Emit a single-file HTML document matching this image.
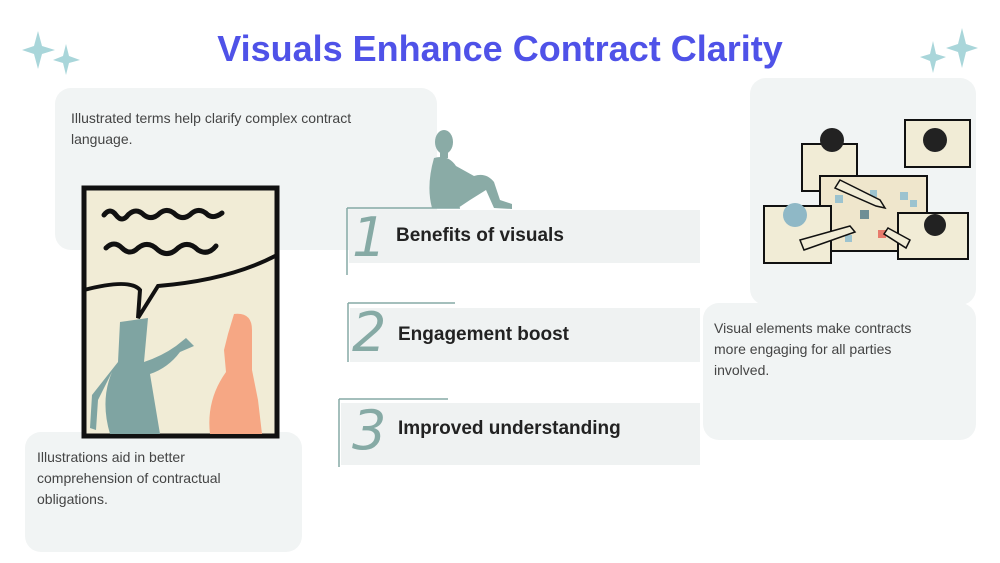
<!DOCTYPE html>
<html><head><meta charset="utf-8"><style>
body{margin:0;width:1000px;height:563px;background:#fff;position:relative;overflow:hidden;font-family:"Liberation Sans",sans-serif;}
.box{position:absolute;background:#f1f4f4;border-radius:16px;}
.t{position:absolute;color:#444;font-size:14px;line-height:21px;}
.row{position:absolute;background:#eff2f2;}
.lbl{position:absolute;font-weight:bold;font-size:19px;color:#222;}
.num{position:absolute;font-family:"DejaVu Sans",sans-serif;font-size:54px;color:#86aaa5;font-style:italic;font-weight:200;}
</style></head><body>
<div style="position:absolute;left:0;width:1000px;top:28px;text-align:center;font-weight:bold;font-size:36px;color:#4f52e8;">Visuals Enhance Contract Clarity</div>
<svg style="position:absolute;left:0;top:0" width="1000" height="563">
<g fill="#a9d6da">
<path d="M38 31 L42 46 L55 50 L42 54 L38 69 L34 54 L22 50 L34 46Z"/>
<path d="M66 44 L69 56 L80 60 L69 63 L66 75 L63 63 L53 60 L63 56Z"/>
<path d="M962 28 L966 44 L978 48 L966 52 L962 68 L958 52 L946 48 L958 44Z"/>
<path d="M933 41 L936 54 L946 57 L936 61 L933 73 L930 61 L920 57 L930 54Z"/>
</g>
</svg>
<div class="box" style="left:55px;top:88px;width:382px;height:162px;"></div>
<div class="t" style="left:71px;top:108px;width:340px;">Illustrated terms help clarify complex contract language.</div>
<div class="box" style="left:750px;top:78px;width:226px;height:227px;"></div>
<div class="box" style="left:703px;top:303px;width:273px;height:137px;"></div>
<div class="t" style="left:714px;top:318px;width:225px;">Visual elements make contracts more engaging for all parties involved.</div>
<div class="box" style="left:25px;top:432px;width:277px;height:120px;"></div>
<div class="t" style="left:37px;top:447px;width:215px;">Illustrations aid in better comprehension of contractual obligations.</div>

<svg style="position:absolute;left:0;top:0" width="1000" height="563">
<rect x="84" y="188" width="193" height="248" fill="#f1ecd6" stroke="#111" stroke-width="5"/>
<path d="M84 290 Q130 278 140 290 L138 318 L158 286 Q230 280 277 255" fill="none" stroke="#111" stroke-width="4"/>
<path d="M104 215 q6-8 12 0 q6 8 12 0 q8-8 16 0 q8 6 16-2 q8-6 16 2 q8 6 16-2 q8-6 16 2 q6 4 14-2" fill="none" stroke="#111" stroke-width="5" stroke-linecap="round"/>
<path d="M106 248 q8-8 16 0 q8 8 16 0 q10-8 20 2 q10 8 20-2 q10-8 20 2 q10 6 18-4" fill="none" stroke="#111" stroke-width="5" stroke-linecap="round"/>
<path d="M120 322 L148 318 L144 362 Q162 356 176 346 L186 338 L194 346 L180 352 Q168 368 150 374 L160 434 L110 434 Q100 400 112 372 L98 400 L96 430 L90 428 L92 395 L118 362 Z" fill="#7fa4a2"/>
<path d="M234 314 Q252 312 252 330 L252 370 L258 400 L262 434 L210 434 Q206 400 226 372 L224 350 L228 334 Z" fill="#f6a784"/>
<!-- sitting man -->
<g fill="#8aaba6">
<ellipse cx="444" cy="142" rx="9" ry="12"/>
<rect x="440" y="150" width="8" height="8"/>
<path d="M434 158 Q448 154 456 166 L474 176 Q486 172 494 182 L500 200 L512 204 L512 209 L494 208 L486 190 L470 200 L458 208 L432 208 Q426 186 434 158Z"/>
</g>
<path d="M347 208 H460 M347 208 V275" stroke="#86aaa5" stroke-width="1.5" fill="none"/>
<path d="M348 303 H455 M348 303 V362" stroke="#86aaa5" stroke-width="1.5" fill="none"/>
<path d="M339 399 H448 M339 399 V467" stroke="#86aaa5" stroke-width="1.5" fill="none"/>
<g stroke="#111" stroke-width="2" fill="#f1ecd6">
<rect x="802" y="144" width="55" height="47"/>
<rect x="905" y="120" width="65" height="47"/>
<rect x="820" y="176" width="107" height="75" fill="#efe6cc"/>
<rect x="764" y="206" width="67" height="57"/>
<rect x="898" y="213" width="70" height="46"/>
</g>
<g fill="#9cc3cf"><rect x="835" y="195" width="8" height="8"/><rect x="870" y="190" width="7" height="7"/><rect x="900" y="192" width="8" height="8"/><rect x="860" y="210" width="9" height="9" fill="#6f8f95"/><rect x="878" y="230" width="8" height="8" fill="#e87b6c"/><rect x="845" y="235" width="7" height="7"/><rect x="910" y="200" width="7" height="7"/></g>
<g stroke="#111" stroke-width="1.5" fill="#f1ecd6">
<path d="M840 180 L880 200 L885 208 L876 206 L835 188Z"/>
<path d="M800 240 L850 226 L855 232 L804 250Z"/>
<path d="M910 240 L888 228 L884 234 L906 248Z"/>
</g>
<circle cx="832" cy="140" r="12" fill="#222"/>
<circle cx="935" cy="140" r="12" fill="#222"/>
<circle cx="795" cy="215" r="12" fill="#8fb8c6"/>
<circle cx="935" cy="225" r="11" fill="#222"/>
</svg>

<div class="row" style="left:349px;top:210px;width:351px;height:53px;"></div>
<div class="row" style="left:350px;top:308px;width:350px;height:54px;"></div>
<div class="row" style="left:341px;top:403px;width:359px;height:62px;"></div>
<div class="num" style="left:352px;top:206px;">1</div>
<div class="num" style="left:352px;top:301px;">2</div>
<div class="num" style="left:352px;top:399px;">3</div>
<div class="lbl" style="left:396px;top:225px;">Benefits of visuals</div>
<div class="lbl" style="left:398px;top:324px;">Engagement boost</div>
<div class="lbl" style="left:398px;top:418px;">Improved understanding</div>
</body></html>
